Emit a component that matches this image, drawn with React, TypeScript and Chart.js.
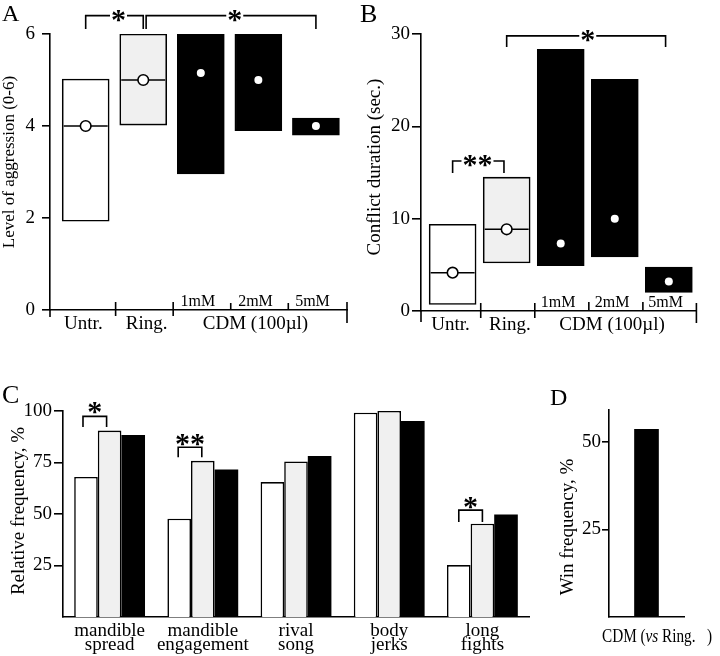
import React, { useEffect, useRef } from 'react';
import { Chart, registerables } from 'chart.js';

Chart.register(...registerables);

const SERIF = '"Liberation Serif", "Times New Roman", serif';
const W = 720;
const H = 656;

// ---------- Panel A: level of aggression (range box + median) ----------
const treatments = ['Untr.', 'Ring.', '1mM', '2mM', '5mM'];
const cdmGroupLabel = 'CDM (100µl)';
const aggressionLow = [1.93, 4.02, 2.96, 3.9, 3.8];
const aggressionHigh = [5.02, 6.0, 6.0, 6.0, 4.17];
const aggressionMedian = [4, 5, 5.15, 5, 4];
const aggressionTicks = [0, 2, 4, 6];

// ---------- Panel B: conflict duration ----------
const durationLow = [0.7, 5.2, 4.9, 5.85, 2.0];
const durationHigh = [9.4, 14.5, 28.35, 25.1, 4.77];
const durationMedian = [4.15, 8.85, 7.3, 10, 3.2];
const durationTicks = [0, 10, 20, 30];

// ---------- Panel C: relative frequency of behaviours ----------
const behaviours = [
  ['mandible', 'spread'],
  ['mandible', 'engagement'],
  ['rival', 'song'],
  ['body', 'jerks'],
  ['long', 'fights'],
];
const freqUntreated = [68, 47.7, 65.5, 99.2, 25.2];
const freqRinger = [90.5, 75.8, 75.5, 100, 45.3];
const freqCdm = [88.3, 71.6, 78.2, 95.1, 49.8];
const freqTicks = [25, 50, 75, 100];

// ---------- Panel D: win frequency ----------
const winGroups = ['CDM'];
const winFrequency = [53.6];
const winTicks = [25, 50];

const boxFills = ['#ffffff', '#f0f0f0', '#000000', '#000000', '#000000'];
const LW = 1.6;
const Y_BOX = 40;

type Area = { left: number; right: number; top: number; bottom: number };

function padFor(a: Area, xh: number) {
  return { left: a.left - Y_BOX, right: W - a.right, top: a.top, bottom: H - a.bottom - xh };
}

function yAxis(list: number[], min: number, max: number, tickLength: number, pad: number, size: number) {
  return {
    type: 'linear',
    min,
    max,
    afterBuildTicks: (s: any) => {
      s.ticks = list.map((v) => ({ value: v }));
    },
    afterFit: (s: any) => {
      s.width = Y_BOX;
    },
    grid: { display: true, drawOnChartArea: false, drawTicks: true, tickLength, color: '#000', lineWidth: LW },
    border: { display: true, color: '#000', width: LW },
    ticks: { color: '#000', padding: pad, font: { family: SERIF, size }, autoSkip: false },
  };
}

function vline(ctx: CanvasRenderingContext2D, x: number, y1: number, y2: number) {
  ctx.beginPath();
  ctx.moveTo(x, y1);
  ctx.lineTo(x, y2);
  ctx.stroke();
}

function bracket(ctx: CanvasRenderingContext2D, x1: number, x2: number, yTop: number, yLeg: number) {
  ctx.beginPath();
  ctx.moveTo(x1, yLeg);
  ctx.lineTo(x1, yTop);
  ctx.lineTo(x2, yTop);
  ctx.lineTo(x2, yLeg);
  ctx.stroke();
}

function stars(ctx: CanvasRenderingContext2D, text: string, cx: number, cy: number, clear: boolean) {
  ctx.font = `bold 30px ${SERIF}`;
  const m = ctx.measureText(text);
  const asc = m.actualBoundingBoxAscent;
  const desc = m.actualBoundingBoxDescent;
  const w = m.actualBoundingBoxLeft + m.actualBoundingBoxRight;
  if (clear) {
    ctx.fillStyle = '#fff';
    ctx.fillRect(cx - w / 2 - 2, cy - 3, w + 4, 6);
  }
  ctx.fillStyle = '#000';
  ctx.textAlign = 'center';
  ctx.textBaseline = 'alphabetic';
  ctx.fillText(text, cx, cy + (asc - desc) / 2);
}

function letter(ctx: CanvasRenderingContext2D, t: string, x: number, y: number, size: number) {
  ctx.font = `${size}px ${SERIF}`;
  ctx.fillStyle = '#000';
  ctx.textAlign = 'left';
  ctx.textBaseline = 'alphabetic';
  ctx.fillText(t, x, y);
}

function vTitle(ctx: CanvasRenderingContext2D, t: string, cx: number, cy: number, size: number) {
  ctx.save();
  ctx.translate(cx, cy);
  ctx.rotate(-Math.PI / 2);
  ctx.font = `${size}px ${SERIF}`;
  ctx.fillStyle = '#000';
  ctx.textAlign = 'center';
  ctx.textBaseline = 'middle';
  ctx.fillText(t, 0, 0);
  ctx.restore();
}

function text(ctx: CanvasRenderingContext2D, t: string, x: number, y: number, size: number) {
  ctx.font = `${size}px ${SERIF}`;
  ctx.fillStyle = '#000';
  ctx.textAlign = 'center';
  ctx.textBaseline = 'alphabetic';
  ctx.fillText(t, x, y);
}

const labelX = [-0.04, 1.06, 1.95, 2.95, 3.94];

function drawTreatmentAxis(chart: any, sepUp: number[], startDown: number, sepDown: number, endDown: number) {
  const ctx: CanvasRenderingContext2D = chart.ctx;
  const xs = chart.scales.x;
  const ys = chart.scales.y;
  const px = (v: number) => xs.getPixelForValue(v);
  const base = ys.getPixelForValue(0);
  ctx.strokeStyle = '#000';
  ctx.lineWidth = LW;
  vline(ctx, xs.left, base, base + startDown);
  [0.52, 1.52].forEach((v) => vline(ctx, px(v), base - sepUp[0], base + sepDown));
  [2.52, 3.52].forEach((v) => vline(ctx, px(v), base - sepUp[1], base));
  vline(ctx, xs.right, base - sepUp[0], base + endDown);
  text(ctx, treatments[0], px(labelX[0]), base + 19, 19);
  text(ctx, treatments[1], px(labelX[1]), base + 19, 19);
  text(ctx, cdmGroupLabel, px(2.95), base + 19, 19);
  for (let i = 2; i < 5; i++) text(ctx, treatments[i], px(labelX[i]), base - 4, 16);
}

function boxChart(
  canvas: HTMLCanvasElement,
  p: {
    low: number[];
    high: number[];
    median: number[];
    ticks: number[];
    yMax: number;
    xMin: number;
    xMax: number;
    area: Area;
    tickLength: number;
    tickPad: number;
    tickSize: number;
    draw: (chart: any) => void;
  },
) {
  const idx = treatments.map((_, i) => i);
  const isOpen = (i: number) => boxFills[i] !== '#000000';
  return new Chart(canvas, {
    type: 'bar',
    data: {
      datasets: [
        {
          type: 'line',
          data: idx.map((i) => ({ x: i, y: p.median[i] })),
          showLine: false,
          pointStyle: 'circle',
          pointRadius: (c: any) => (isOpen(c.dataIndex) ? 5.3 : 4),
          pointBackgroundColor: '#fff',
          pointBorderColor: '#000',
          pointBorderWidth: (c: any) => (isOpen(c.dataIndex) ? LW : 0),
          clip: false,
        },
        {
          type: 'line',
          data: idx.map((i) => ({ x: i, y: p.median[i] })),
          showLine: false,
          pointStyle: 'line',
          pointRadius: 22,
          pointBorderColor: '#000',
          pointBorderWidth: LW,
          clip: false,
        },
        {
          type: 'bar',
          data: idx.map((i) => ({ x: i, y: [p.low[i], p.high[i]] })),
          backgroundColor: boxFills,
          borderColor: '#000',
          borderWidth: LW,
          borderSkipped: false,
          barThickness: 47,
        },
      ],
    } as any,
    options: {
      responsive: false,
      animation: false,
      events: [],
      layout: { padding: padFor(p.area, 20) },
      plugins: { legend: { display: false }, tooltip: { enabled: false } },
      scales: {
        x: {
          type: 'linear',
          min: p.xMin,
          max: p.xMax,
          offset: false,
          grid: { display: false, drawTicks: false, offset: false },
          border: { display: true, color: '#000', width: LW },
          ticks: { display: false },
          afterFit: (s: any) => {
            s.height = 20;
          },
        },
        y: yAxis(p.ticks, 0, p.yMax, p.tickLength, p.tickPad, p.tickSize),
      },
    } as any,
    plugins: [{ id: 'decor', afterDraw: p.draw }],
  });
}

function makeA(canvas: HTMLCanvasElement) {
  return boxChart(canvas, {
    low: aggressionLow,
    high: aggressionHigh,
    median: aggressionMedian,
    ticks: aggressionTicks,
    yMax: 6,
    xMin: -0.62,
    xMax: 4.54,
    area: { left: 50, right: 347, top: 34, bottom: 310 },
    tickLength: 8,
    tickPad: 7,
    tickSize: 19,
    draw: (chart: any) => {
      const ctx: CanvasRenderingContext2D = chart.ctx;
      const px = (v: number) => chart.scales.x.getPixelForValue(v);
      const py = (v: number) => chart.scales.y.getPixelForValue(v);
      ctx.save();
      drawTreatmentAxis(chart, [8, 7], 7, 6, 13);
      ctx.strokeStyle = '#000';
      ctx.lineWidth = LW;
      bracket(ctx, px(0), px(1), py(6.4), py(6.11));
      stars(ctx, '*', px(0.57), py(6.4), true);
      bracket(ctx, px(1.05), px(4), py(6.4), py(6.11));
      stars(ctx, '*', px(2.59), py(6.4), true);
      vTitle(ctx, 'Level of aggression (0-6)', 10, 162, 17);
      letter(ctx, 'A', 2, 21, 24);
      ctx.restore();
    },
  });
}

function makeB(canvas: HTMLCanvasElement) {
  return boxChart(canvas, {
    low: durationLow,
    high: durationHigh,
    median: durationMedian,
    ticks: durationTicks,
    yMax: 30,
    xMin: -0.585,
    xMax: 4.51,
    area: { left: 421, right: 717, top: 34, bottom: 311 },
    tickLength: 9,
    tickPad: 2,
    tickSize: 19,
    draw: (chart: any) => {
      const ctx: CanvasRenderingContext2D = chart.ctx;
      const px = (v: number) => chart.scales.x.getPixelForValue(v);
      const py = (v: number) => chart.scales.y.getPixelForValue(v);
      ctx.save();
      drawTreatmentAxis(chart, [8, 9], 11, 7, 12);
      ctx.strokeStyle = '#000';
      ctx.lineWidth = LW;
      bracket(ctx, px(0), px(0.95), py(16.25), py(14.95));
      stars(ctx, '**', px(0.46), py(16.25), true);
      bracket(ctx, px(1.0), px(3.94), py(29.8), py(28.6));
      stars(ctx, '*', px(2.5), py(29.8), true);
      vTitle(ctx, 'Conflict duration (sec.)', 375, 167, 19);
      letter(ctx, 'B', 360, 22, 26);
      ctx.restore();
    },
  });
}

function makeC(canvas: HTMLCanvasElement) {
  const area = { left: 63, right: 529, top: 411, bottom: 617 };
  const bar = (label: string, data: number[], fill: string, bw: number) => ({
    label,
    data,
    backgroundColor: fill,
    borderColor: '#000',
    borderWidth: bw,
  });
  return new Chart(canvas, {
    type: 'bar',
    data: {
      labels: behaviours,
      datasets: [
        bar('Untr.', freqUntreated, '#ffffff', LW),
        bar('Ring.', freqRinger, '#f0f0f0', LW),
        bar('CDM', freqCdm, '#000000', 0),
      ],
    } as any,
    options: {
      responsive: false,
      animation: false,
      events: [],
      layout: { padding: padFor(area, 39) },
      datasets: { bar: { categoryPercentage: 0.76, barPercentage: 1 } },
      plugins: { legend: { display: false }, tooltip: { enabled: false } },
      scales: {
        x: {
          type: 'category',
          grid: { display: false, drawTicks: false },
          border: { display: true, color: '#000', width: LW },
          ticks: {
            color: '#000',
            font: { family: SERIF, size: 19, lineHeight: 0.75 },
            padding: 7,
            maxRotation: 0,
            autoSkip: false,
          },
          afterFit: (s: any) => {
            s.height = 39;
          },
        },
        y: yAxis(freqTicks, 0, 100, 9, 2, 19),
      },
    } as any,
    plugins: [
      {
        id: 'decorC',
        afterDraw: (chart: any) => {
          const ctx: CanvasRenderingContext2D = chart.ctx;
          const py = (v: number) => chart.scales.y.getPixelForValue(v);
          const m0 = chart.getDatasetMeta(0);
          const m1 = chart.getDatasetMeta(1);
          ctx.save();
          ctx.strokeStyle = '#000';
          ctx.lineWidth = LW;
          const sig = (i: number, top: number, leg: number, st: number, t: string, dx: number) => {
            const x1 = m0.data[i].x + dx;
            const x2 = m1.data[i].x + dx;
            bracket(ctx, x1, x2, py(top), py(leg));
            stars(ctx, t, (x1 + x2) / 2, py(st), false);
          };
          sig(0, 97.4, 92.2, 101.5, '*', -3);
          sig(1, 82.4, 77.6, 85.8, '**', -1);
          sig(4, 51.9, 46.1, 55.3, '*', 0);
          vTitle(ctx, 'Relative frequency, %', 19, 511, 19);
          letter(ctx, 'C', 2, 403, 26);
          ctx.restore();
        },
      },
    ],
  });
}

function makeD(canvas: HTMLCanvasElement) {
  const area = { left: 609, right: 684, top: 410, bottom: 617 };
  return new Chart(canvas, {
    type: 'bar',
    data: {
      labels: winGroups,
      datasets: [
        { label: 'CDM', data: winFrequency, backgroundColor: '#000', borderWidth: 0, barThickness: 24 },
      ],
    } as any,
    options: {
      responsive: false,
      animation: false,
      events: [],
      layout: { padding: padFor(area, 20) },
      plugins: { legend: { display: false }, tooltip: { enabled: false } },
      scales: {
        x: {
          type: 'category',
          grid: { display: false, drawTicks: false },
          border: { display: true, color: '#000', width: LW },
          ticks: { display: false },
          afterFit: (s: any) => {
            s.height = 20;
          },
        },
        y: yAxis(winTicks, 0, 59.1, 7, 1, 19),
      },
    } as any,
    plugins: [
      {
        id: 'decorD',
        afterDraw: (chart: any) => {
          const ctx: CanvasRenderingContext2D = chart.ctx;
          ctx.save();
          vTitle(ctx, 'Win frequency, %', 568, 527, 19);
          letter(ctx, 'D', 550, 405, 24);
          // x label: "CDM (vs Ring.  )" with italic "vs", horizontally condensed
          const parts: [string, string][] = [
            [`${winGroups[0]} (`, `19px ${SERIF}`],
            ['vs', `italic 19px ${SERIF}`],
            [' Ring.   )', `19px ${SERIF}`],
          ];
          let total = 0;
          const widths = parts.map(([t, f]) => {
            ctx.font = f;
            const w = ctx.measureText(t).width;
            total += w;
            return w;
          });
          const x0 = 602;
          const target = 110;
          ctx.translate(x0, 642);
          ctx.scale(target / total, 1);
          ctx.fillStyle = '#000';
          ctx.textAlign = 'left';
          ctx.textBaseline = 'alphabetic';
          let x = 0;
          parts.forEach(([t, f], i) => {
            ctx.font = f;
            ctx.fillText(t, x, 0);
            x += widths[i];
          });
          ctx.restore();
        },
      },
    ],
  });
}

export default function App() {
  const refA = useRef<HTMLCanvasElement>(null);
  const refB = useRef<HTMLCanvasElement>(null);
  const refC = useRef<HTMLCanvasElement>(null);
  const refD = useRef<HTMLCanvasElement>(null);

  useEffect(() => {
    const charts = [
      makeA(refA.current as HTMLCanvasElement),
      makeB(refB.current as HTMLCanvasElement),
      makeC(refC.current as HTMLCanvasElement),
      makeD(refD.current as HTMLCanvasElement),
    ];
    return () => charts.forEach((c) => c.destroy());
  }, []);

  const cv: React.CSSProperties = { position: 'absolute', left: 0, top: 0, width: W, height: H };
  return (
    <div style={{ position: 'absolute', left: 0, top: 0, width: W, height: H, background: '#fff' }}>
      <canvas ref={refA} width={W} height={H} style={cv} />
      <canvas ref={refB} width={W} height={H} style={cv} />
      <canvas ref={refC} width={W} height={H} style={cv} />
      <canvas ref={refD} width={W} height={H} style={cv} />
    </div>
  );
}
